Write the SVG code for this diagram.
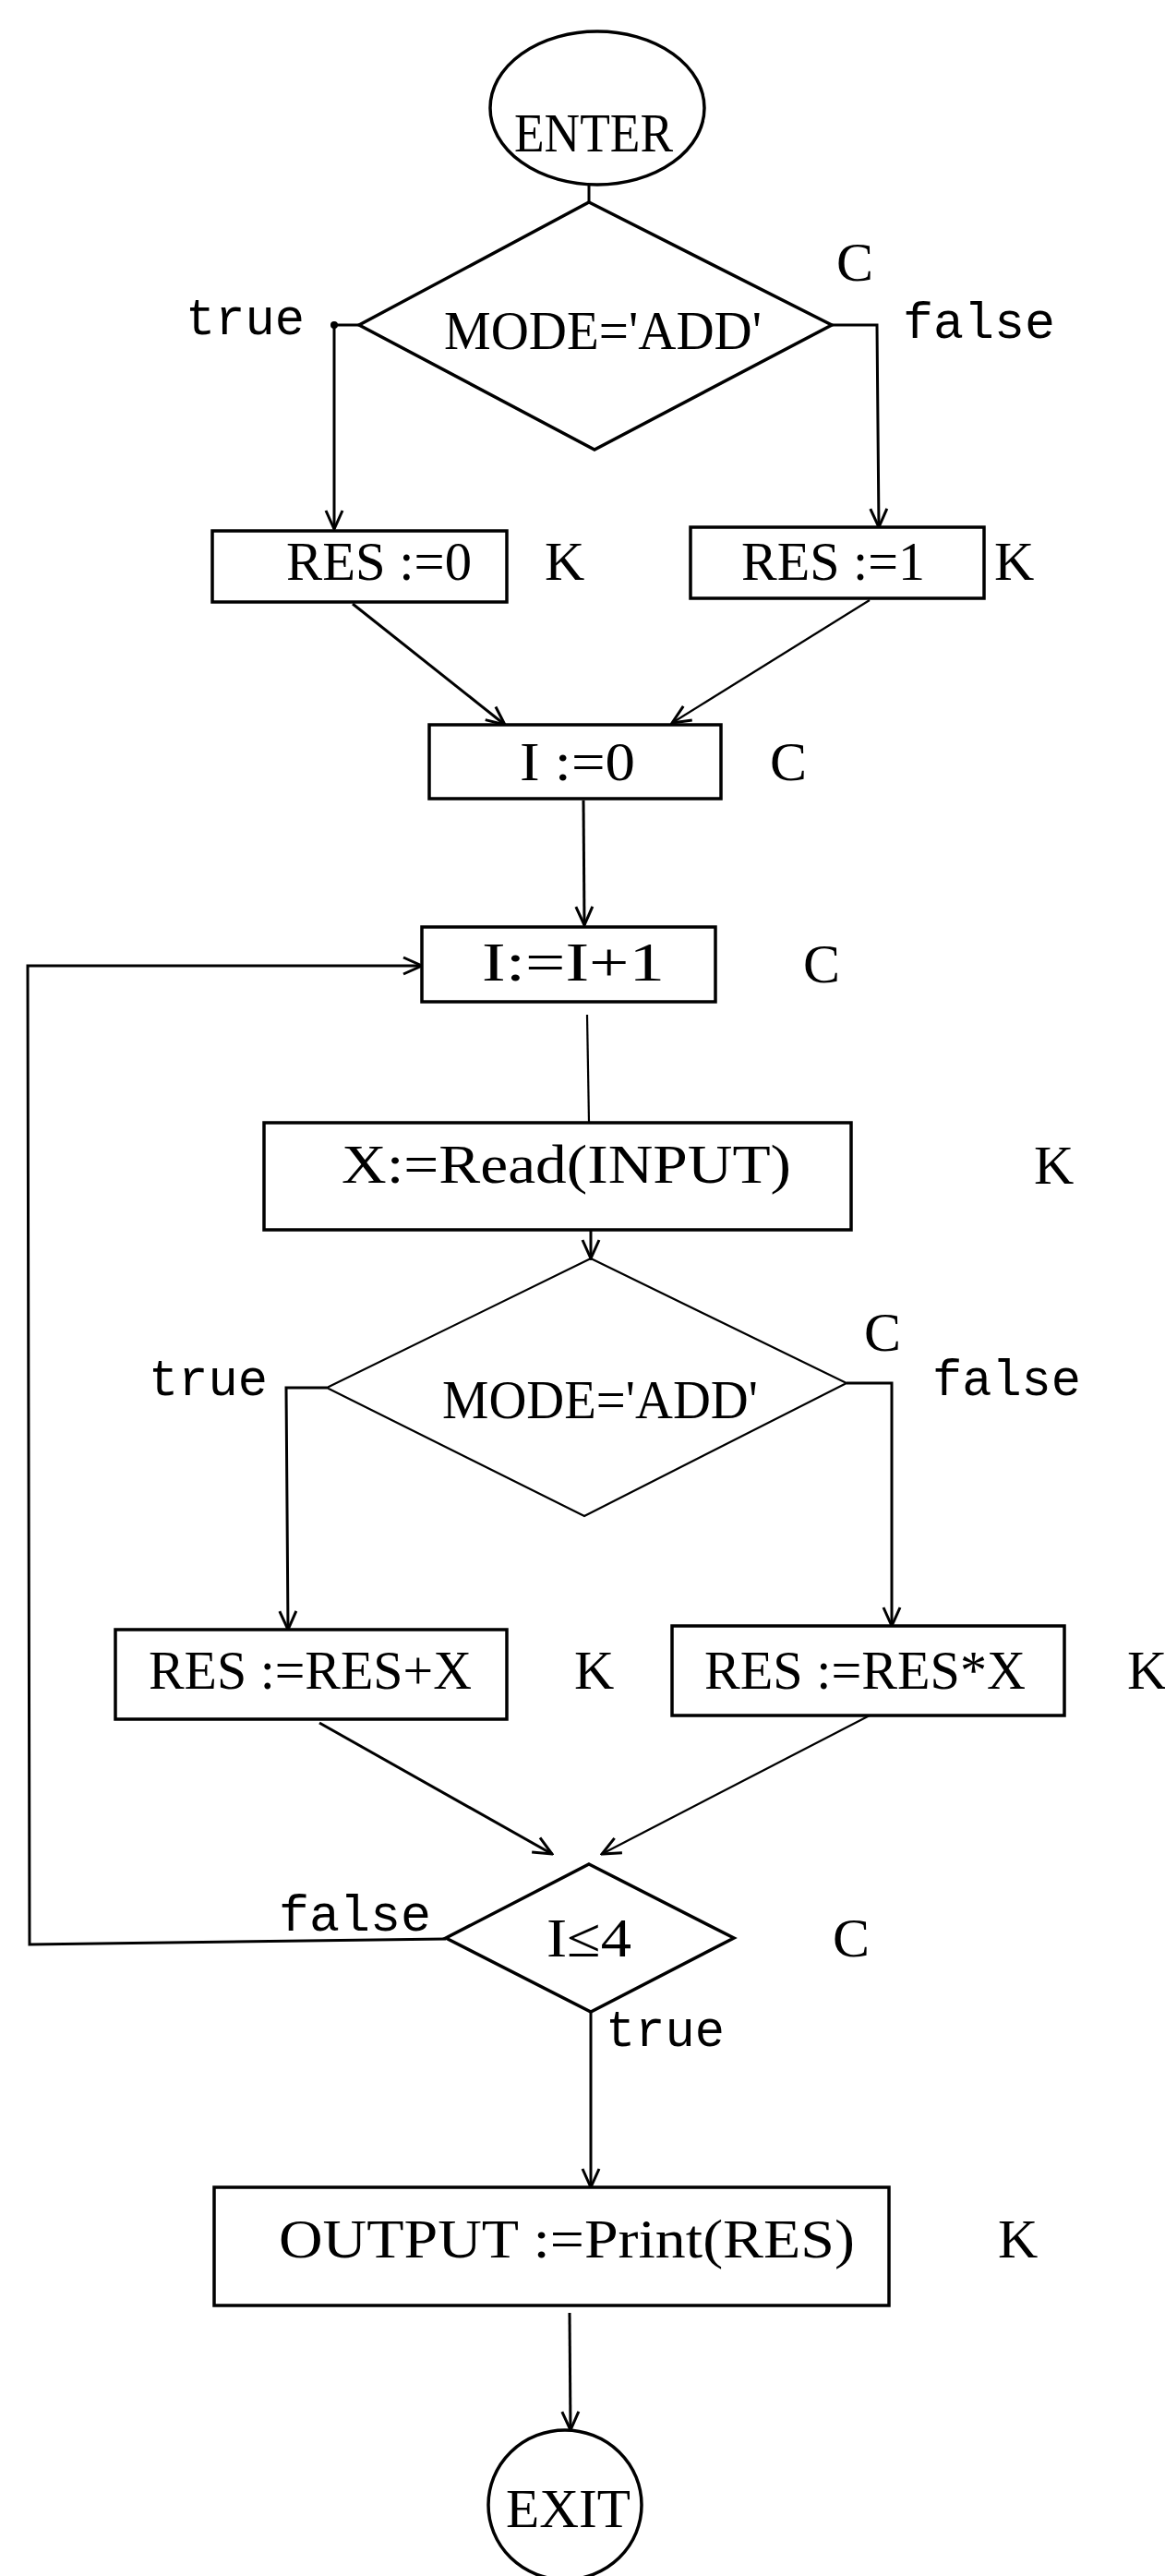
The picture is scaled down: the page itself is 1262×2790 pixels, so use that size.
<svg xmlns="http://www.w3.org/2000/svg" width="1262" height="2790" viewBox="0 0 1262 2790">
<style>
.s{fill:#fff;stroke:#000;stroke-width:3.5}
.t{font-family:"Liberation Serif","Times New Roman",serif;font-size:60px;fill:#000}
.m{font-family:"Liberation Mono","Courier New",monospace;font-size:55px;fill:#000}
.c{fill:none;stroke:#000;stroke-width:3}
.thin{fill:none;stroke:#000;stroke-width:2.2}
</style>
<defs>
<marker id="a" viewBox="0 0 24 24" refX="22" refY="12" markerWidth="24" markerHeight="24" markerUnits="userSpaceOnUse" orient="auto">
<path d="M2,3 L22,12 L2,21" fill="none" stroke="#000" stroke-width="3"/>
</marker>
</defs>
<rect width="1262" height="2790" fill="#fff"/>
<g id="connectors">
<path class="c" d="M638,200 L638,219"/>
<path class="c" d="M389,352 L362,352 L362,573" marker-end="url(#a)"/>
<circle cx="362" cy="352" r="4" fill="#000"/>
<path class="c" d="M901,352 L950,352 L952,571" marker-end="url(#a)"/>
<path class="c" d="M382,654 L547,785" marker-end="url(#a)"/>
<path class="thin" d="M942,650 L728,783" marker-end="url(#a)"/>
<path class="c" d="M632,867 L633,1002" marker-end="url(#a)"/>
<path class="thin" d="M636,1099 L638,1216"/>
<path class="c" d="M640,1332 L640,1363" marker-end="url(#a)"/>
<path class="c" d="M354,1503 L310,1503 L312,1765" marker-end="url(#a)"/>
<path class="c" d="M917,1498 L966,1498 L966,1761" marker-end="url(#a)"/>
<path class="c" d="M346,1866 L598,2008" marker-end="url(#a)"/>
<path class="thin" d="M942,1858 L652,2008" marker-end="url(#a)"/>
<path class="c" d="M483,2100 L32,2106 L30,1046 L457,1046" marker-end="url(#a)"/>
<path class="c" d="M640,2179 L640,2369" marker-end="url(#a)"/>
<path class="c" d="M617,2505 L618,2632" marker-end="url(#a)"/>
</g>
<g id="enter">
<ellipse class="s" cx="647" cy="117" rx="116" ry="83"/>
<text class="t" x="557" y="164" textLength="172" lengthAdjust="spacingAndGlyphs">ENTER</text>
</g>
<g id="cond1">
<polygon class="s" points="638,219 901,352 644,487 389,352"/>
<text class="t" x="481" y="378" textLength="344" lengthAdjust="spacingAndGlyphs">MODE='ADD'</text>
<text class="t" x="906" y="304">C</text>
<text class="m" x="201" y="362" textLength="129" lengthAdjust="spacingAndGlyphs">true</text>
<text class="m" x="978" y="366" textLength="165" lengthAdjust="spacingAndGlyphs">false</text>
</g>
<g id="res0">
<rect class="s" x="230" y="575" width="319" height="77"/>
<text class="t" x="310" y="628" textLength="201" lengthAdjust="spacingAndGlyphs">RES :=0</text>
<text class="t" x="590" y="628">K</text>
</g>
<g id="res1">
<rect class="s" x="748" y="571" width="318" height="77"/>
<text class="t" x="803" y="628" textLength="199" lengthAdjust="spacingAndGlyphs">RES :=1</text>
<text class="t" x="1077" y="628">K</text>
</g>
<g id="i0">
<rect class="s" x="465" y="785" width="316" height="80"/>
<text class="t" x="563" y="845" textLength="125" lengthAdjust="spacingAndGlyphs">I :=0</text>
<text class="t" x="834" y="845">C</text>
</g>
<g id="inc">
<rect class="s" x="457" y="1004" width="318" height="81"/>
<text class="t" x="522" y="1062" textLength="198" lengthAdjust="spacingAndGlyphs">I:=I+1</text>
<text class="t" x="870" y="1064">C</text>
</g>
<g id="read">
<rect class="s" x="286" y="1216" width="636" height="116"/>
<text class="t" x="370" y="1281" textLength="487" lengthAdjust="spacingAndGlyphs">X:=Read(INPUT)</text>
<text class="t" x="1120" y="1282">K</text>
</g>
<g id="cond2">
<polygon class="thin" points="640,1363 917,1498 633,1642 354,1503" fill="#fff"/>
<text class="t" x="479" y="1536" textLength="342" lengthAdjust="spacingAndGlyphs">MODE='ADD'</text>
<text class="t" x="936" y="1463">C</text>
<text class="m" x="161" y="1511" textLength="129" lengthAdjust="spacingAndGlyphs">true</text>
<text class="m" x="1010" y="1511" textLength="161" lengthAdjust="spacingAndGlyphs">false</text>
</g>
<g id="add">
<rect class="s" x="125" y="1765" width="424" height="97"/>
<text class="t" x="161" y="1829" textLength="350" lengthAdjust="spacingAndGlyphs">RES :=RES+X</text>
<text class="t" x="622" y="1829">K</text>
</g>
<g id="mul">
<rect class="s" x="728" y="1761" width="425" height="97"/>
<text class="t" x="763" y="1829" textLength="348" lengthAdjust="spacingAndGlyphs">RES :=RES*X</text>
<text class="t" x="1221" y="1829">K</text>
</g>
<g id="cond3">
<polygon class="s" points="638,2019 795,2099 640,2179 483,2099"/>
<text class="t" x="592" y="2119" textLength="92" lengthAdjust="spacingAndGlyphs">I≤4</text>
<text class="t" x="902" y="2119">C</text>
<text class="m" x="302" y="2091" textLength="165" lengthAdjust="spacingAndGlyphs">false</text>
<text class="m" x="656" y="2216" textLength="129" lengthAdjust="spacingAndGlyphs">true</text>
</g>
<g id="output">
<rect class="s" x="232" y="2369" width="731" height="128"/>
<text class="t" x="302" y="2445" textLength="624" lengthAdjust="spacingAndGlyphs">OUTPUT :=Print(RES)</text>
<text class="t" x="1081" y="2445">K</text>
</g>
<g id="exit">
<ellipse class="s" cx="612" cy="2713" rx="83" ry="81"/>
<text class="t" x="548" y="2737" textLength="135" lengthAdjust="spacingAndGlyphs">EXIT</text>
</g>
</svg>
